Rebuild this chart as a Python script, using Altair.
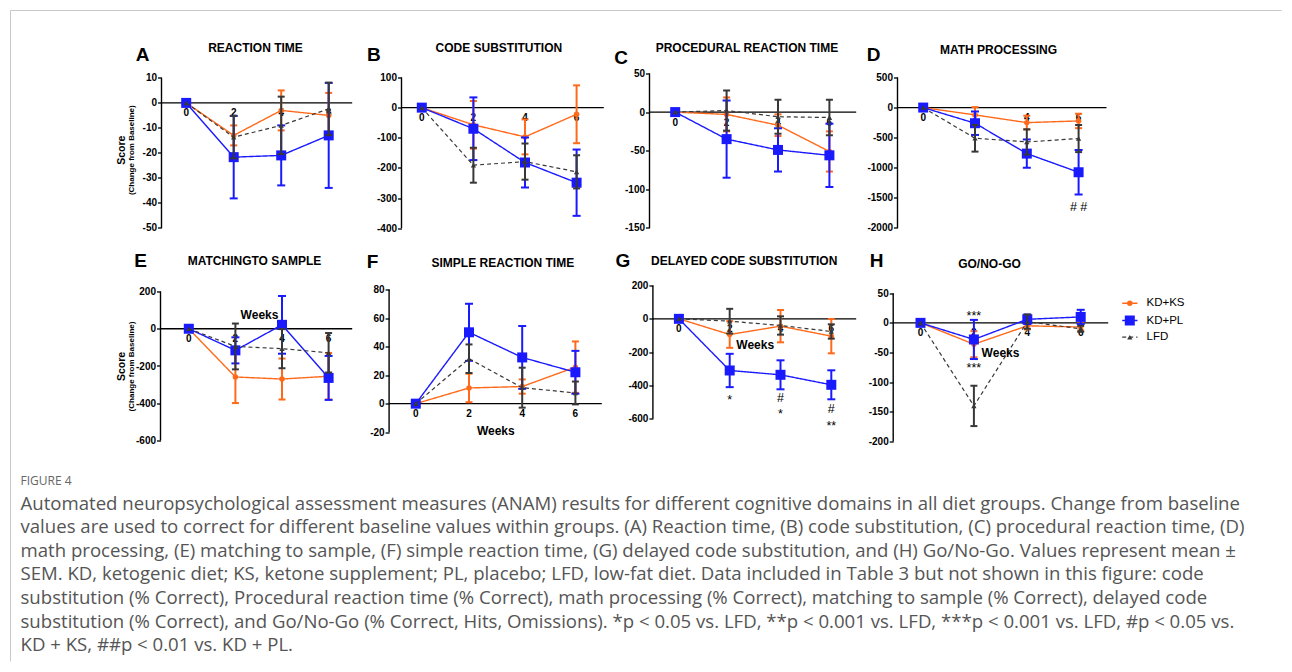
import altair as alt
import pandas as pd

WEEKS = [0, 2, 4, 6]
SERIES = ["KD+KS", "KD+PL", "LFD"]

# (A) Reaction time
A_KS = [0, -13.0, -3.0, -5.0]
A_KS_SEM = [0, 4, 8, 9]
A_PL = [0, -21.7, -21.0, -13.0]
A_PL_SEM = [0, 16.5, 12, 21]
A_LFD = [0, -13.7, -9.0, -2.4]
A_LFD_SEM = [0, 8.5, 11.5, 10.5]

# (B) Code substitution
B_KS = [0, -57, -97, -22]
B_KS_SEM = [0, 79, 58, 96]
B_PL = [0, -70, -182, -249]
B_PL_SEM = [0, 104, 83, 110]
B_LFD = [0, -191, -179, -213]
B_LFD_SEM = [0, 58, 60, 55]

# (C) Procedural reaction time
C_KS = [0, -3, -17, -51]
C_KS_SEM = [0, 22, 14, 26]
C_PL = [0, -35, -49, -56]
C_PL_SEM = [0, 50, 28, 41]
C_LFD = [0, 2, -6, -7]
C_LFD_SEM = [0, 26, 22, 23]

# (D) Math processing
D_KS = [0, -122, -250, -222]
D_KS_SEM = [0, 130, 115, 120]
D_PL = [0, -260, -765, -1075]
D_PL_SEM = [0, 195, 235, 370]
D_LFD = [0, -510, -571, -515]
D_LFD_SEM = [0, 222, 210, 225]

# (E) Matching to sample
E_KS = [0, -259, -270, -255]
E_KS_SEM = [0, 140, 110, 125]
E_PL = [0, -116, 21, -264]
E_PL_SEM = [0, 70, 155, 118]
E_LFD = [0, -95, -107, -129]
E_LFD_SEM = [0, 123, 105, 106]

# (F) Simple reaction time
F_KS = [0, 11, 12, 25.6]
F_KS_SEM = [0, 10, 5, 18]
F_PL = [0, 50, 32.4, 22]
F_PL_SEM = [0, 20, 22, 15]
F_LFD = [0, 31.5, 11.2, 7.5]
F_LFD_SEM = [0, 10, 14, 8]

# (G) Delayed code substitution
G_KS = [0, -94, -44, -104]
G_KS_SEM = [0, 80, 97, 103]
G_PL = [0, -310, -336, -396]
G_PL_SEM = [0, 100, 87, 87]
G_LFD = [0, -14, -40, -76]
G_LFD_SEM = [0, 74, 55, 43]

# (H) Go/No-Go
H_KS = [0, -36, -5, -7]
H_KS_SEM = [0, 22, 6, 6]
H_PL = [0, -28, 6, 10]
H_PL_SEM = [0, 33, 8, 12]
H_LFD = [0, -140, 2, -10]
H_LFD_SEM = [0, 34, 12, 5]

# y tick values per panel
A_TICKS = [10, 0, -10, -20, -30, -40, -50]
B_TICKS = [100, 0, -100, -200, -300, -400]
C_TICKS = [50, 0, -50, -100, -150]
D_TICKS = [500, 0, -500, -1000, -1500, -2000]
E_TICKS = [200, 0, -200, -400, -600]
F_TICKS = [80, 60, 40, 20, 0, -20]
G_TICKS = [200, 0, -200, -400, -600]
H_TICKS = [50, 0, -50, -100, -150, -200]

# significance marks (week, value, label)
D_NOTE_WEEK = [6]
D_NOTE_VAL = [-1650]
D_NOTE_TXT = ["# #"]
G_NOTE_WEEK = [2, 4, 4, 6, 6]
G_NOTE_VAL = [-486, -474, -570, -540, -646]
G_NOTE_TXT = ["*", "#", "*", "#", "**"]
H_NOTE_WEEK = [2, 2]
H_NOTE_VAL = [12, -76]
H_NOTE_TXT = ["***", "***"]

TITLES = ["REACTION TIME", "CODE SUBSTITUTION", "PROCEDURAL REACTION TIME", "MATH PROCESSING",
          "MATCHINGTO SAMPLE", "SIMPLE REACTION TIME", "DELAYED CODE SUBSTITUTION", "GO/NO-GO"]
LETTERS = ["A", "B", "C", "D", "E", "F", "G", "H"]

CAPTION_HEAD = "FIGURE 4"
CAPTION = [
    "Automated neuropsychological assessment measures (ANAM) results for different cognitive domains in all diet groups. Change from baseline",
    "values are used to correct for different baseline values within groups. (A) Reaction time, (B) code substitution, (C) procedural reaction time, (D)",
    "math processing, (E) matching to sample, (F) simple reaction time, (G) delayed code substitution, and (H) Go/No-Go. Values represent mean \u00b1",
    "SEM. KD, ketogenic diet; KS, ketone supplement; PL, placebo; LFD, low-fat diet. Data included in Table 3 but not shown in this figure: code",
    "substitution (% Correct), Procedural reaction time (% Correct), math processing (% Correct), matching to sample (% Correct), delayed code",
    "substitution (% Correct), and Go/No-Go (% Correct, Hits, Omissions). *p < 0.05 vs. LFD, **p < 0.001 vs. LFD, ***p < 0.001 vs. LFD, #p < 0.05 vs.",
    "KD + KS, ##p < 0.01 vs. KD + PL.",
]

# ---------------- styles / layout (page pixel geometry) ----------------
FONT = "Liberation Sans"
STYLE = {
    "KD+KS": dict(color="#FF6A1A", dash=[1, 0], shape="circle", size=30, cap=7, lw=1.4),
    "KD+PL": dict(color="#1A1AFF", dash=[1, 0], shape="square", size=100, cap=8, lw=1.4),
    "LFD": dict(color="#383838", dash=[4, 3], shape="triangle-up", size=28, cap=7, lw=1.2),
}
ROW_TOP = [73.3, 285.0]
ROW_H = [154.7, 156.0]
COL_LEFT = [161.0, 400.7, 648.3, 896.0]
COL_W = [239.7, 247.6, 247.7, 215.0]

LAYOUT = [
    dict(row=0, col=0, axis=161.0, x0=185.7, kx=23.75, xend=351.7, top=(10, 77.7), bot=(-50, 227.7),
         letter=(142, 55), title=(255, 48)),
    dict(row=0, col=1, axis=400.7, x0=421.0, kx=25.8, xend=603.0, top=(100, 77.3), bot=(-400, 228.0),
         letter=(373, 55), title=(498, 48)),
    dict(row=0, col=2, axis=648.3, x0=674.0, kx=25.7, xend=855.0, top=(50, 73.3), bot=(-150, 227.7),
         letter=(620, 58), title=(745.7, 48)),
    dict(row=0, col=3, axis=896.0, x0=921.7, kx=25.9, xend=1105.0, top=(500, 77.3), bot=(-2000, 227.7),
         letter=(872, 55), title=(997, 50)),
    dict(row=1, col=0, axis=160.0, x0=188.3, kx=23.3, xend=351.7, top=(200, 291.0), bot=(-600, 440.0),
         letter=(140, 260), title=(254, 260.7), weeks=(259, 314)),
    dict(row=1, col=1, axis=388.3, x0=415.0, kx=26.6, xend=601.0, top=(80, 289.0), bot=(-20, 431.7),
         letter=(371.7, 261.7), title=(502, 262), weeks=(495, 430)),
    dict(row=1, col=2, axis=651.7, x0=677.7, kx=25.4, xend=855.0, top=(200, 285.0), bot=(-600, 418.3),
         letter=(621.7, 260), title=(743, 260), weeks=(754, 344)),
    dict(row=1, col=3, axis=891.7, x0=919.0, kx=26.7, xend=1106.7, top=(50, 292.7), bot=(-200, 441.0),
         letter=(875, 260), title=(988, 263), weeks=(999, 352)),
]

PANEL_DATA = [
    ([A_KS, A_PL, A_LFD], [A_KS_SEM, A_PL_SEM, A_LFD_SEM], A_TICKS, ([], [], [])),
    ([B_KS, B_PL, B_LFD], [B_KS_SEM, B_PL_SEM, B_LFD_SEM], B_TICKS, ([], [], [])),
    ([C_KS, C_PL, C_LFD], [C_KS_SEM, C_PL_SEM, C_LFD_SEM], C_TICKS, ([], [], [])),
    ([D_KS, D_PL, D_LFD], [D_KS_SEM, D_PL_SEM, D_LFD_SEM], D_TICKS, (D_NOTE_WEEK, D_NOTE_VAL, D_NOTE_TXT)),
    ([E_KS, E_PL, E_LFD], [E_KS_SEM, E_PL_SEM, E_LFD_SEM], E_TICKS, ([], [], [])),
    ([F_KS, F_PL, F_LFD], [F_KS_SEM, F_PL_SEM, F_LFD_SEM], F_TICKS, ([], [], [])),
    ([G_KS, G_PL, G_LFD], [G_KS_SEM, G_PL_SEM, G_LFD_SEM], G_TICKS, (G_NOTE_WEEK, G_NOTE_VAL, G_NOTE_TXT)),
    ([H_KS, H_PL, H_LFD], [H_KS_SEM, H_PL_SEM, H_LFD_SEM], H_TICKS, (H_NOTE_WEEK, H_NOTE_VAL, H_NOTE_TXT)),
]


def pix_text(text, x, y, **mark):
    df = pd.DataFrame({"t": [text]})
    return alt.Chart(df).mark_text(**mark).encode(
        x=alt.value(x), y=alt.value(y), text="t:N")


def build_panel(i):
    means, sems, yticks, notes = PANEL_DATA[i]
    lay = LAYOUT[i]
    T = ROW_TOP[lay["row"]]
    H = ROW_H[lay["row"]]
    left, W, kx = COL_LEFT[lay["col"]], COL_W[lay["col"]], lay["kx"]
    xmin = (left - lay["x0"]) / kx
    xmax = xmin + W / kx
    xaxis = (lay["axis"] - lay["x0"]) / kx
    xend = (lay["xend"] - lay["x0"]) / kx
    (vt, pt), (vb, pb) = lay["top"], lay["bot"]
    ky = (pb - pt) / (vt - vb)
    dmax = vt + (pt - T) / ky
    dmin = dmax - H / ky

    def rel(p):
        return p[0] - left, p[1] - T

    xs = alt.Scale(domain=[xmin, xmax], nice=False, zero=False)
    ys = alt.Scale(domain=[dmin, dmax], nice=False, zero=False)
    yax = alt.Axis(values=yticks, domain=False, grid=False, ticks=True, tickSize=4, tickWidth=1.3,
                   tickColor="black", labelFont=FONT, labelFontWeight="bold", labelFontSize=10,
                   labelColor="black", labelPadding=1, labelFlush=False, labelOverlap=False, title=None,
                   offset=round(left - lay["axis"], 2),
                   labelExpr="(datum.value < 0 ? '-' : '') + abs(datum.value)")

    def X(f):
        return alt.X(f, scale=xs, axis=None)

    def Y(f):
        return alt.Y(f, scale=ys, axis=yax)

    layers = []
    # y axis line
    layers.append(alt.Chart(pd.DataFrame({"x": [xaxis], "lo": [vb], "hi": [vt]})).mark_rule(
        color="black", strokeWidth=1.4).encode(x=X("x:Q"), y=Y("lo:Q"), y2="hi:Q"))
    # x axis line at zero
    layers.append(alt.Chart(pd.DataFrame({"x": [xaxis], "x2": [xend], "v": [0]})).mark_rule(
        color="black", strokeWidth=1.4).encode(x=X("x:Q"), x2="x2:Q", y=Y("v:Q")))
    # x tick labels
    layers.append(alt.Chart(pd.DataFrame({"week": WEEKS, "v": [0] * 4, "lab": [str(w) for w in WEEKS]}))
                  .mark_text(font=FONT, fontWeight="bold", fontSize=10, dy=10.5, color="black")
                  .encode(x=X("week:Q"), y=Y("v:Q"), text="lab:N"))

    for s, m, e in zip(SERIES, means, sems):
        st = STYLE[s]
        df = pd.DataFrame({"week": WEEKS, "value": m, "sem": e})
        df["lo"] = df["value"] - df["sem"]
        df["hi"] = df["value"] + df["sem"]
        base = alt.Chart(df)
        layers.append(base.mark_line(color=st["color"], strokeWidth=st["lw"], strokeDash=st["dash"])
                      .encode(x=X("week:Q"), y=Y("value:Q")))
        eb = base.transform_filter("datum.sem > 0")
        layers.append(eb.mark_rule(color=st["color"], strokeWidth=2)
                      .encode(x=X("week:Q"), y=Y("lo:Q"), y2="hi:Q"))
        for f in ["lo", "hi"]:
            layers.append(eb.mark_tick(color=st["color"], orient="horizontal", size=st["cap"], thickness=2,
                                       opacity=1)
                          .encode(x=X("week:Q"), y=Y(f + ":Q")))
        layers.append(base.mark_point(shape=st["shape"], size=st["size"], filled=True, opacity=1,
                                      color=st["color"])
                      .encode(x=X("week:Q"), y=Y("value:Q")))

    nw, nv, nt = notes
    if nw:
        layers.append(alt.Chart(pd.DataFrame({"week": nw, "v": nv, "t": nt}))
                      .mark_text(font=FONT, fontSize=12.5, color="black", baseline="middle")
                      .encode(x=X("week:Q"), y=Y("v:Q"), text="t:N"))

    lx, ly = rel(lay["letter"])
    layers.append(pix_text(LETTERS[i], lx, ly, font=FONT, fontWeight="bold", fontSize=19,
                           baseline="middle", color="black"))
    tx, ty = rel(lay["title"])
    layers.append(pix_text(TITLES[i], tx, ty, font=FONT, fontWeight="bold", fontSize=12,
                           baseline="middle", color="black"))
    if "weeks" in lay:
        wx, wy = rel(lay["weeks"])
        layers.append(pix_text("Weeks", wx, wy, font=FONT, fontWeight="bold", fontSize=12,
                               baseline="middle", color="black"))
    if i in (0, 4):
        cy = 150 if i == 0 else 366
        sx, sy = rel((121, cy))
        layers.append(pix_text("Score", sx, sy, font=FONT, fontWeight="bold", fontSize=10.5, angle=270,
                               baseline="middle", color="black"))
        cx, cy2 = rel((131.5, cy))
        layers.append(pix_text("(Change from Baseline)", cx, cy2, font=FONT, fontWeight="bold", fontSize=8,
                               angle=270, baseline="middle", color="black"))

    if i == 7:
        # legend, drawn next to panel H
        for s, py in zip(SERIES, [302.7, 320.0, 336.7]):
            st = STYLE[s]
            one = alt.Chart(pd.DataFrame({"series": [s]}))
            _, ry = rel((0, py))
            layers.append(one.mark_rule(color=st["color"], strokeWidth=st["lw"], strokeDash=st["dash"])
                          .encode(x=alt.value(1120.7 - left), x2=alt.value(1136 - left), y=alt.value(ry)))
            layers.append(one.mark_point(shape=st["shape"], size=st["size"], filled=True, opacity=1,
                                         color=st["color"])
                          .encode(x=alt.value(1128.3 - left), y=alt.value(ry)))
            layers.append(one.mark_text(font=FONT, fontSize=11.5, align="left", baseline="middle",
                                        color="black")
                          .encode(x=alt.value(1145 - left), y=alt.value(ry), text="series:N"))

    if i == 4:
        # page frame and figure caption, placed relative to panel E
        one = alt.Chart(pd.DataFrame({"k": [0]}))
        fx, fy = rel((10, 10))
        layers.append(one.mark_rule(color="#c8c8c8", strokeWidth=1)
                      .encode(x=alt.value(fx), y=alt.value(fy), y2=alt.value(661 - T)))
        layers.append(one.mark_rule(color="#c8c8c8", strokeWidth=1)
                      .encode(x=alt.value(fx), x2=alt.value(1281 - left), y=alt.value(fy)))
        hx, hy = rel((20, 484))
        layers.append(pix_text(CAPTION_HEAD, hx, hy, font="Open Sans", fontSize=12, align="left",
                               baseline="alphabetic", color="#666666"))
        cx, cy = rel((20, 509))
        layers.append(one.mark_text(text=CAPTION, font="Open Sans", fontSize=18.6, lineHeight=23.6,
                                    align="left", baseline="alphabetic", color="#555555")
                      .encode(x=alt.value(cx), y=alt.value(cy)))

    return alt.layer(*layers).properties(width=W, height=H)


panels = [build_panel(i) for i in range(8)]

chart = alt.concat(*panels, columns=4, bounds="flush",
                   spacing={"row": 57, "column": 0}).properties(
    padding={"left": 1.5, "top": 1.5, "right": 0, "bottom": 0},
    background="white",
).configure_view(stroke=None)

chart.save("out.html", embed_options={"renderer": "svg", "actions": False})
